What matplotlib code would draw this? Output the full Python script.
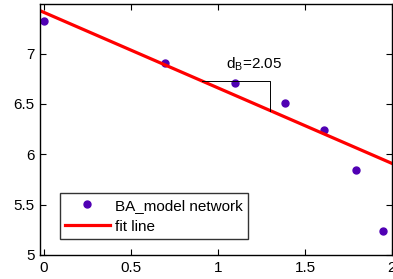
import matplotlib
matplotlib.use('Agg')
import matplotlib.pyplot as plt
import numpy as np

plt.rcParams['font.family'] = ['Liberation Sans', 'DejaVu Sans']

# data: log(k) vs log(N(k))
x_data = [0.0, 0.693, 1.099, 1.386, 1.609, 1.792, 1.946]
y_data = [7.32, 6.91, 6.71, 6.51, 6.24, 5.84, 5.24]
fit_x = [-0.05, 2.05]
fit_y = [7.447, 5.872]
tri_x = [0.907, 1.30, 1.30]
tri_y = [6.73, 6.73, 6.435]
xticks = [0, 0.5, 1, 1.5, 2]
yticks = [5, 5.5, 6, 6.5, 7]

fig = plt.figure(figsize=(3.93, 2.79), dpi=100)
ax = fig.add_axes([40/393, 1-255/279, 352/393, 250.7/279])

ax.plot(x_data, y_data, 'o', color='#5000b4', markersize=5, label='BA_model network')
ax.plot(fit_x, fit_y, '-', color='#ff0000', linewidth=2.3, label='fit line')
ax.plot(tri_x, tri_y, '-', color='black', linewidth=0.7)
ax.text(1.21, 6.85, r'd$_\mathregular{B}$=2.05', fontsize=11, ha='center', va='baseline')

ax.set_xlim(-0.023, 2.0)
ax.set_ylim(5.0, 7.49)
ax.set_xticks(xticks)
ax.set_xticklabels(['0', '0.5', '1', '1.5', '2'])
ax.set_yticks(yticks)
ax.set_yticklabels(['5', '5.5', '6', '6.5', '7'])
ax.tick_params(direction='in', top=True, right=True, labelsize=11, length=4, pad=4)
for s in ax.spines.values():
    s.set_linewidth(1.0)

leg = ax.legend(loc='lower left', bbox_to_anchor=(0.0568, 0.064), fontsize=11,
                frameon=True, fancybox=False, edgecolor='black', numpoints=1,
                handlelength=2.9, borderpad=0.35, labelspacing=0.45, handletextpad=0.35,
                borderaxespad=0)
leg.get_frame().set_linewidth(1.0)

fig.savefig('out.png', dpi=100)
